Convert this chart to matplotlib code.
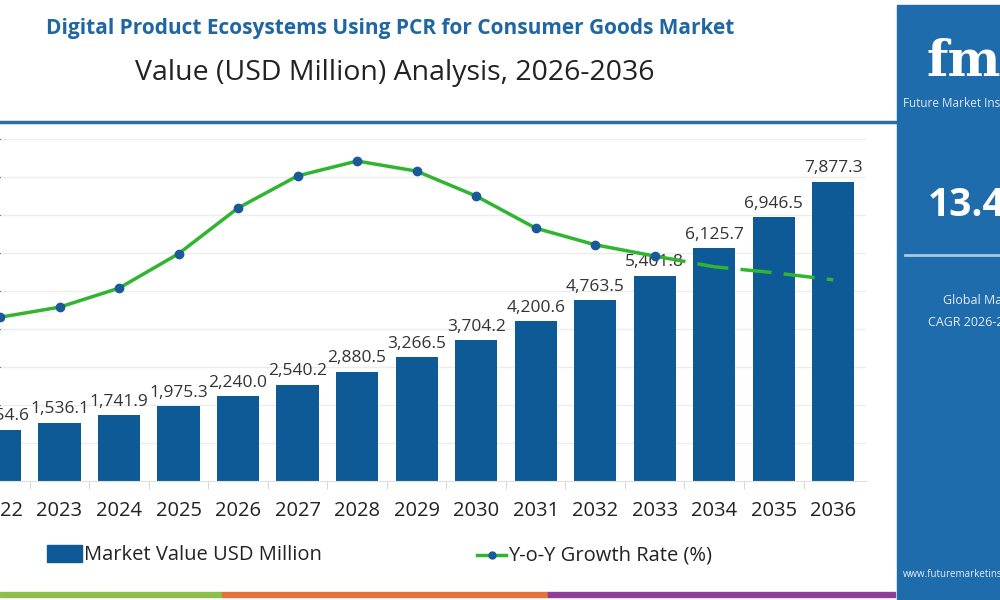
import numpy as np
import matplotlib.pyplot as plt
from matplotlib.lines import Line2D
from matplotlib.patches import Rectangle

plt.rcParams['font.family'] = ['Open Sans', 'DejaVu Sans']

# ── dados ───────────────────────────────────────────────────────────────────
years = ['2022', '2023', '2024', '2025', '2026', '2027', '2028', '2029',
         '2030', '2031', '2032', '2033', '2034', '2035', '2036']
market_value = [1354.6, 1536.1, 1741.9, 1975.3, 2240.0, 2540.2, 2880.5, 3266.5,
                3704.2, 4200.6, 4763.5, 5401.8, 6125.7, 6946.5, 7877.3]
yoy_growth = [12.76, 12.93, 13.25, 13.83, 14.60, 15.14, 15.39, 15.22,
              14.80, 14.26, 13.98, 13.79, 13.61, 13.51, 13.39]
n_solid = 12          # 2022-2033 com marcador; depois tracejado (projeção)

title_top = 'Digital Product Ecosystems Using PCR for Consumer Goods Market'
title_sub = 'Value (USD Million) Analysis, 2026-2036'
cagr_txt = '13.4%'

BAR = '#0e5a96'
GREEN = '#2fb52f'
DOT = '#1b5a98'
PANEL = '#1f6cad'

fig = plt.figure(figsize=(10, 6), dpi=100)

# ── eixo principal ──────────────────────────────────────────────────────────
ax = fig.add_axes([0.0, 0.198, 0.866, 0.594])
x = np.arange(len(years))
ax.bar(x, market_value, width=0.71, color=BAR, zorder=2)
for xi, v in zip(x, market_value):
    ax.text(xi, v + 140, f'{v:,.1f}', ha='center', va='bottom',
            fontsize=12.5, color='#333333', zorder=3)
ax.set_xlim(0.017, 14.55)
ax.set_ylim(0, 9370)
ax.set_yticks(np.arange(1000, 9001, 1000))
ax.grid(axis='y', color='#ececec', lw=1, zorder=0)
ax.tick_params(axis='y', left=False, labelleft=False)
ax.set_xticks(x)
ax.set_xticklabels(years, fontsize=14.5, color='#222222')
ax.set_xticks(x[:-1] + 0.5, minor=True)
ax.tick_params(axis='x', which='major', length=0, pad=14)
ax.tick_params(axis='x', which='minor', length=6, color='#d0d0d0')
for s in ['top', 'right', 'left']:
    ax.spines[s].set_visible(False)
ax.spines['bottom'].set_color('#e0e0e0')

# ── eixo secundário (crescimento) ───────────────────────────────────────────
ax2 = ax.twinx()
ax2.set_ylim(10, 16)
ax2.axis('off')
ax2.plot(x[:n_solid], yoy_growth[:n_solid], color=GREEN, lw=2.5, zorder=3)
ax2.plot(x[:n_solid], yoy_growth[:n_solid], 'o', color=DOT, ms=6, zorder=4)
ax2.plot(x[n_solid - 1:], yoy_growth[n_solid - 1:], color=GREEN, lw=2.5,
         dashes=(9, 3.5), zorder=3)

# ── títulos ─────────────────────────────────────────────────────────────────
fig.text(0.39, 0.953, title_top, ha='center', va='center', fontsize=15,
         fontweight='bold', color='#1f66a3')
fig.text(0.395, 0.878, title_sub, ha='center', va='center', fontsize=20.5,
         color='#222222')
fig.add_artist(Line2D([0, 0.895], [0.797, 0.797], color='#2a6ea8', lw=2.5))

# ── legenda ─────────────────────────────────────────────────────────────────
fig.add_artist(Rectangle((0.047, 0.063), 0.035, 0.028, color=BAR))
fig.text(0.084, 0.075, 'Market Value USD Million', ha='left', va='center',
         fontsize=14.5, color='#222222')
fig.add_artist(Line2D([0.477, 0.506], [0.075, 0.075], color=GREEN, lw=2.5))
fig.add_artist(Line2D([0.4915], [0.075], marker='o', color=DOT, ms=5))
fig.text(0.508, 0.075, 'Y-o-Y Growth Rate (%)', ha='left', va='center',
         fontsize=14.5, color='#222222')

# ── faixas coloridas de rodapé ──────────────────────────────────────────────
for x0, x1, c in [(0.0, 0.222, '#8cc04b'), (0.222, 0.548, '#e5713c'),
                  (0.548, 0.895, '#8e3d9c')]:
    fig.add_artist(Rectangle((x0, 0.005), x1 - x0, 0.009, color=c))

# ── painel lateral ──────────────────────────────────────────────────────────
fig.add_artist(Rectangle((0.897, 0.0), 0.103, 0.992, color=PANEL))
fig.text(0.927, 0.895, 'fmi', ha='left', va='center', fontsize=36,
         fontweight='bold', color='white', family='DejaVu Serif')
fig.text(0.903, 0.828, 'Future Market Insights', ha='left', va='center',
         fontsize=8.5, color='#dde8f3')
fig.text(0.928, 0.657, cagr_txt, ha='left', va='center', fontsize=28,
         fontweight='bold', color='white')
fig.add_artist(Line2D([0.905, 1.0], [0.575, 0.575], color='#a9c8e6', lw=2))
fig.text(0.943, 0.499, 'Global Market', ha='left', va='center',
         fontsize=9, color='#e6eef7')
fig.text(0.928, 0.462, 'CAGR 2026-2036', ha='left', va='center',
         fontsize=9, color='#e6eef7')
fig.text(0.903, 0.042, 'www.futuremarketinsights.com', ha='left',
         va='center', fontsize=7, color='#e6eef7')

fig.savefig('out.png', dpi=100)
